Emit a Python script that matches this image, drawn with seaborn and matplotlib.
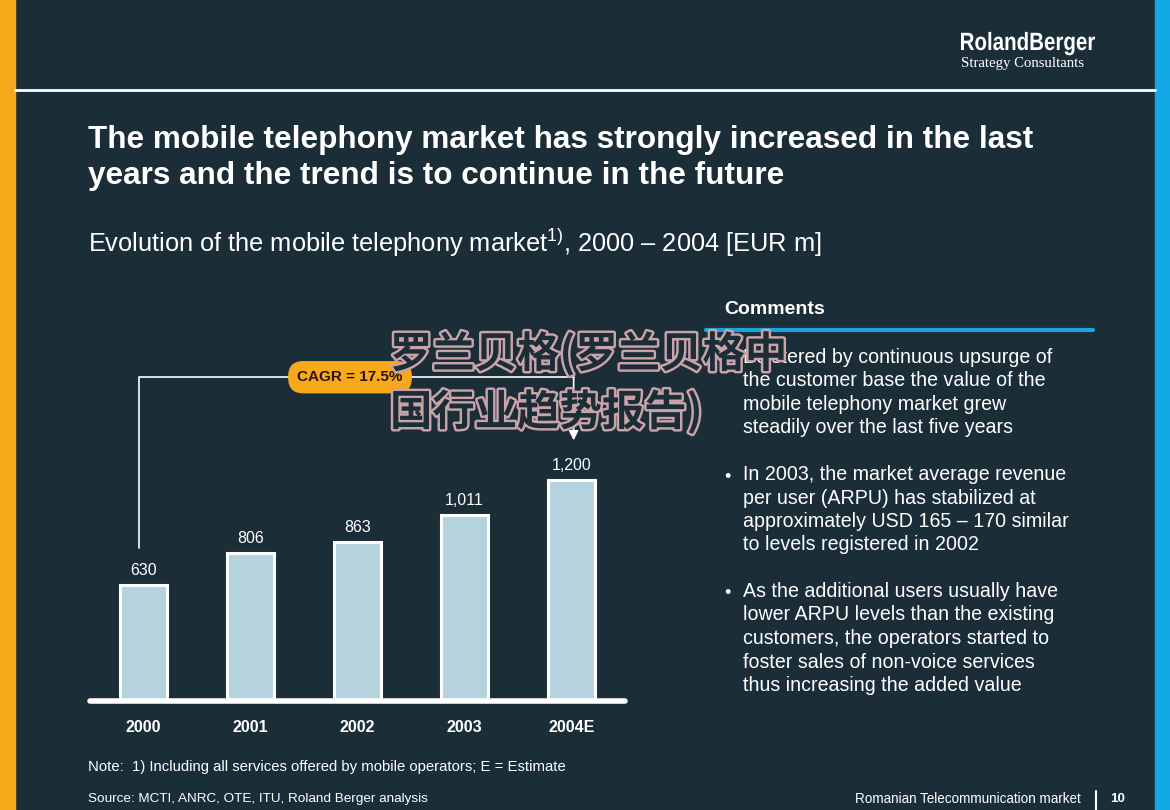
import numpy as np
import pandas as pd
import matplotlib
matplotlib.use('Agg')
import matplotlib.pyplot as plt
import matplotlib.patheffects as pe
from matplotlib.textpath import TextPath
from matplotlib.patches import PathPatch
from matplotlib.font_manager import FontProperties
from matplotlib.transforms import Affine2D
import seaborn as sns

# data
years = ['2000', '2001', '2002', '2003', '2004E']
market_value = [630, 806, 863, 1011, 1200]
value_labels = ['630', '806', '863', '1,011', '1,200']
cagr_label = 'CAGR = 17.5%'

title = ('The mobile telephony market has strongly increased in the last\n'
         'years and the trend is to continue in the future')
subtitle = (r'Evolution of the mobile telephony market$^{\mathregular{1)}}$, '
            '2000 \u2013 2004 [EUR m]')
comments = [
    'Bolstered by continuous upsurge of\nthe customer base the value of the\n'
    'mobile telephony market grew\nsteadily over the last five years',
    'In 2003, the market average revenue\nper user (ARPU) has stabilized at\n'
    'approximately USD 165 \u2013 170 similar\nto levels registered in 2002',
    'As the additional users usually have\nlower ARPU levels than the existing\n'
    'customers, the operators started to\nfoster sales of non-voice services\n'
    'thus increasing the added value',
]
note = 'Note:  1) Including all services offered by mobile operators; E = Estimate'
source = 'Source: MCTI, ANRC, OTE, ITU, Roland Berger analysis'
footer = 'Romanian Telecommunication market'
page = '10'
watermark = ['罗兰贝格(罗兰贝格中', '国行业趋势报告)']

BG = '#1b2e38'
BAR = '#b5d3df'
ORANGE = '#f7a81b'
BLUE = '#1fa3dc'
W, H = 1170, 810

sns.set_theme(style='white')
plt.rcParams['font.family'] = ['Liberation Sans', 'DejaVu Sans']
plt.rcParams['mathtext.fontset'] = 'custom'
plt.rcParams['mathtext.rm'] = 'Liberation Sans'

fig = plt.figure(figsize=(W / 100, H / 100), dpi=100, facecolor=BG)


def fx(x):
    return x / W


def fy(y):
    return 1 - y / H


# side stripes and header rule
fig.patches.append(plt.Rectangle((0, 0), fx(15), 1, transform=fig.transFigure,
                                 color=ORANGE, zorder=0))
fig.patches.append(plt.Rectangle((fx(1155), 0), fx(15), 1, transform=fig.transFigure,
                                 color='#12a8e6', zorder=0))
fig.add_artist(plt.Line2D([fx(15), fx(1155)], [fy(90), fy(90)], color='white', lw=2))

# logo (condensed bold wordmark)
tp = TextPath((0, 0), 'RolandBerger', size=25,
              prop=FontProperties(family='Liberation Sans', weight='bold'))
bb = tp.get_extents()
tr = Affine2D().translate(-bb.x0, 0).scale(134 / bb.width, 1).translate(961, H - 50)
fig.add_artist(PathPatch(tp, transform=tr, fc='white', ec='none'))
fig.text(fx(961), fy(63), 'Strategy Consultants', color='white', fontsize=10.6,
         family=['Liberation Serif', 'DejaVu Serif'], va='center', ha='left')

fig.text(fx(88), fy(158), title, color='white', fontsize=22.7, fontweight='bold',
         va='center', ha='left', linespacing=1.22)
fig.text(fx(88), fy(243), subtitle, color='white', fontsize=18.3, va='center', ha='left')

# bar chart
ax = fig.add_axes([fx(90), fy(701), 535 / W, 361 / H])
ax.set_facecolor('none')
df = pd.DataFrame({'year': years, 'value': market_value})
sns.barplot(data=df, x='year', y='value', color=BAR, width=0.43, saturation=1,
            edgecolor='white', linewidth=2.2, ax=ax)
ax.set_xlim(-0.5, len(years) - 0.5)
ax.set_ylim(0, 1960)
ax.axhline(0, color='white', lw=4, clip_on=False, zorder=5)
for s in ax.spines.values():
    s.set_visible(False)
ax.set_yticks([])
ax.set_xlabel('')
ax.set_ylabel('')
ax.tick_params(axis='x', length=0, pad=14, colors='white')
for lbl in ax.get_xticklabels():
    lbl.set_fontweight('bold')
    lbl.set_fontsize(11.5)
for i, (v, t) in enumerate(zip(market_value, value_labels)):
    ax.annotate(t, (i, v), xytext=(0, 5), textcoords='offset points', ha='center',
                va='bottom', color='white', fontsize=11.5)

# CAGR bracket
top = max(market_value) * 1.465
x0, x1 = -0.04, len(years) - 1 + 0.02
ax.plot([x0, x0, x1], [market_value[0] + 200, top, top], color='white', lw=1.2,
        clip_on=False)
ax.annotate('', xy=(x1, market_value[-1] + 215), xytext=(x1, top),
            arrowprops=dict(arrowstyle='-|>', color='white', lw=1.2, mutation_scale=14,
                            shrinkA=0, shrinkB=0))
ax.text(1.93, top, cagr_label, ha='center', va='center', color='#2a1408', fontsize=11,
        fontweight='bold', zorder=6,
        bbox=dict(boxstyle='round,pad=0.6,rounding_size=1.0', fc=ORANGE, ec='none'))

# comments panel
fig.text(fx(724), fy(310), 'Comments', color='white', fontsize=14, fontweight='bold',
         va='center', ha='left')
fig.add_artist(plt.Line2D([fx(706), fx(1093)], [fy(330), fy(330)], color=BLUE, lw=3))
for y0, txt in zip([357, 474, 591], comments):
    fig.text(fx(724), fy(y0 + 3), '\u2022', color='white', fontsize=13, va='center',
             ha='left')
    fig.text(fx(743), fy(y0 - 9), txt, color='white', fontsize=14.1, va='top',
             ha='left', linespacing=1.3)

# footer
fig.text(fx(88), fy(767), note, color='white', fontsize=10.7, va='center', ha='left')
fig.text(fx(88), fy(799), source, color='white', fontsize=9.7, va='center', ha='left')
fig.text(fx(1081), fy(799), footer, color='white', fontsize=9.75, va='center', ha='right')
fig.add_artist(plt.Line2D([fx(1096), fx(1096)], [fy(791), fy(810)], color='white', lw=1.5))
fig.text(fx(1110), fy(799), page, color='white', fontsize=9.7, fontweight='bold',
         va='center', ha='left')

# watermark
for y0, txt in zip([354, 412], watermark):
    fig.text(fx(390), fy(y0), txt, color=BG, fontsize=30.5, fontweight='bold',
             family=['Noto Sans CJK SC', 'DejaVu Sans'], va='center', ha='left', zorder=10,
             path_effects=[pe.withStroke(linewidth=3.5, foreground='#c9a3a8')])

fig.savefig('out.png', dpi=100, facecolor=BG)
